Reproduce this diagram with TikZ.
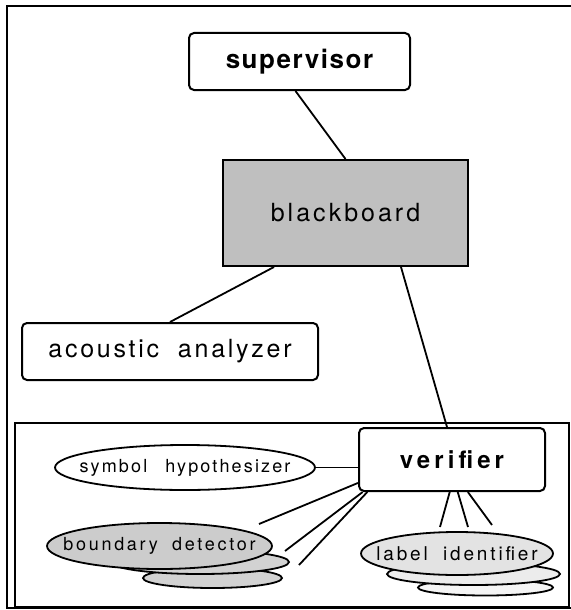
\documentclass[tikz,border=0pt]{standalone}
\usepackage{fontspec}
\setmainfont{TeX Gyre Heros}
\newfontfamily\boxfont{TeX Gyre Heros}
\usetikzlibrary{shapes.geometric}
\begin{document}
\begin{tikzpicture}[x=1pt,y=-1pt,
  box/.style={draw,line width=2pt,rounded corners=5pt,inner sep=0pt},
  ell/.style={draw,ellipse,line width=1.8pt,inner sep=0pt},
  wire/.style={line width=1.8pt},
  lbl/.style n args={2}{font=\boxfont\fontsize{#1}{#1}\selectfont\addfontfeature{LetterSpace=#2}},
  lblb/.style n args={2}{font=\boxfont\fontsize{#1}{#1}\selectfont\bfseries\addfontfeature{LetterSpace=#2}}]
\useasboundingbox (0,0) rectangle (570,610);
\draw[line width=1.6pt] (7,6) rectangle (572,608);
\draw[line width=1.6pt] (15,423) rectangle (569,607);
\node[box,lblb={26}{6},minimum width=221pt,minimum height=57pt] (sup) at (299.5,61.5) {supervisor};
\node[draw,lbl={25}{12},line width=2pt,fill=gray!50,minimum width=245pt,minimum height=106pt] (bb) at (345.5,213) {blackboard};
\node[box,lbl={25}{11},minimum width=296pt,minimum height=57pt] (ac) at (170,351.5) {acoustic\hspace{.75em}analyzer};
\node[box,lblb={24}{17},minimum width=186pt,minimum height=63pt] (ver) at (452,459.5) {verifier};
\node[ell,minimum width=260pt,minimum height=45pt] (sym) at (185,467.5) {};
\node[lbl={18}{12}] at (sym) {symbol\hspace{1em}hypothesizer};
\node[ell,fill=gray!35,minimum width=139pt,minimum height=20pt] (bd3) at (212.5,578) {};
\node[ell,fill=gray!35,minimum width=178pt,minimum height=24pt] (bd2) at (200,562) {};
\node[ell,fill=gray!40,minimum width=225pt,minimum height=46pt] (bd) at (159.5,546) {};
\node[lbl={18}{15}] at (bd) {boundary\hspace{.8em}detector};
\node[ell,fill=gray!8,minimum width=135pt,minimum height=16pt] (li3) at (485.5,587.5) {};
\node[ell,fill=gray!15,minimum width=173pt,minimum height=22pt] (li2) at (473.5,574) {};
\node[ell,fill=gray!22,minimum width=192pt,minimum height=43pt] (li) at (457,553.5) {};
\node[lbl={19}{15}] at (li) {label\hspace{.8em}identifier};
\coordinate (bd-a) at (259,524);
\coordinate (bd-b) at (285,551);
\coordinate (bd-c) at (299,565);
\coordinate (li-a) at (440,527);
\coordinate (li-b) at (468,527);
\coordinate (li-c) at (492,525);
\draw[wire] ([xshift=-4pt]sup.south) -- (bb.north);
\draw[wire] ([xshift=52pt]bb.south west) -- (ac.north);
\draw[wire] ([xshift=-68pt]bb.south east) -- ([xshift=-5pt]ver.north);
\draw[wire] (sym.east) -- (sym.east -| ver.west);
\draw[wire] (ver.194) -- (bd-a);
\draw[wire] (ver.200) -- (bd-b);
\draw[wire] (ver.201.5) -- (bd-c);
\draw[wire] (ver.266) -- (li-a);
\draw[wire] (ver.280) -- (li-b);
\draw[wire] (ver.296) -- (li-c);
\end{tikzpicture}
\end{document}
